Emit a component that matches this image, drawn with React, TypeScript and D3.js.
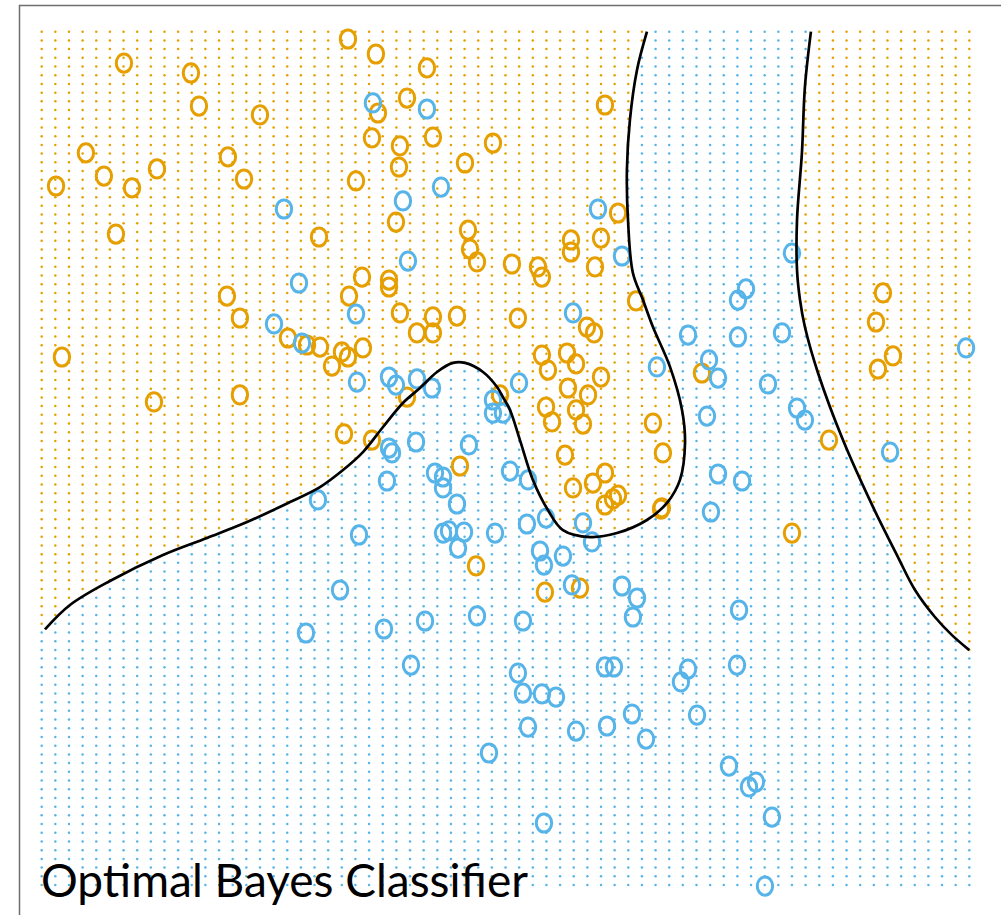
import React, { useEffect, useRef } from 'react';
import * as d3 from 'd3';

// grid of the plotted region (mixture example: px1 by 0.1, px2 by 0.05)
const gridX = d3.range(0, 69).map(i => +(-2.6 + i * 0.1).toFixed(2));
const gridY = d3.range(0, 99).map(j => +(-2 + j * 0.05).toFixed(2));

// training points, class ORANGE
const orangePts: [number, number][] = [
  [-0.355, 2.858], [-0.150, 2.772], [0.224, 2.692], [-1.997, 2.720], [-1.506, 2.663],
  [-1.447, 2.473], [-1.000, 2.422], [0.078, 2.519], [-0.135, 2.433], [-0.179, 2.290],
  [0.026, 2.244], [0.268, 2.295], [0.708, 2.261], [0.019, 2.123], [0.503, 2.146],
  [-0.296, 2.043], [-2.276, 2.204], [-2.144, 2.071], [-2.495, 2.014], [-1.938, 2.003],
  [-1.755, 2.112], [-1.235, 2.181], [-1.117, 2.054], [-2.056, 1.738], [-0.567, 1.721],
  [-0.003, 1.807], [0.525, 1.761], [0.540, 1.652], [0.591, 1.578], [0.847, 1.566],
  [-0.252, 1.491], [-0.054, 1.474], [-0.054, 1.434], [-0.347, 1.382], [-1.242, 1.382],
  [-1.147, 1.256], [0.026, 1.285], [0.268, 1.262], [0.444, 1.267], [1.529, 2.479],
  [1.625, 1.859], [1.280, 1.704], [1.280, 1.635], [1.500, 1.715], [1.038, 1.549],
  [1.067, 1.491], [1.456, 1.549], [1.757, 1.354], [3.567, 1.400], [3.516, 1.233],
  [0.891, 1.256], [1.397, 1.204], [1.449, 1.170], [0.151, 1.170], [0.268, 1.170],
  [-0.795, 1.141], [-0.655, 1.101], [-0.560, 1.089], [-0.399, 1.061], [-0.355, 1.032],
  [-0.245, 1.084], [-0.472, 0.980], [-2.452, 1.032], [-1.777, 0.774], [-1.147, 0.814],
  [0.078, 0.802], [0.760, 0.814], [-0.384, 0.590], [-0.179, 0.555], [0.466, 0.406],
  [0.584, -0.168], [3.640, 1.038], [3.530, 0.963], [1.067, 1.043], [1.111, 0.957],
  [1.251, 1.055], [1.317, 0.992], [1.500, 0.917], [1.258, 0.854], [1.405, 0.814],
  [1.097, 0.745], [1.141, 0.659], [1.317, 0.728], [1.368, 0.647], [1.881, 0.653],
  [2.240, 0.940], [1.954, 0.481], [1.236, 0.469], [3.171, 0.555], [1.529, 0.366],
  [1.441, 0.308], [1.295, 0.280], [1.625, 0.239], [1.588, 0.217], [1.529, 0.182],
  [1.940, 0.159], [1.946, 0.166], [2.900, 0.021], [1.089, -0.318], [1.346, -0.295],
];

// training points, class BLUE
const bluePts: [number, number][] = [
  [-0.172, 2.491], [0.224, 2.456], [0.327, 2.008], [0.048, 1.928], [-0.824, 1.882],
  [0.085, 1.583], [-0.714, 1.457], [-0.296, 1.279], [-0.897, 1.222], [1.478, 1.882],
  [1.654, 1.612], [2.900, 1.629], [2.563, 1.423], [2.504, 1.359], [1.295, 1.285],
  [-0.692, 1.112], [-0.289, 0.888], [-0.054, 0.917], [-0.003, 0.871], [0.151, 0.906],
  [0.261, 0.854], [0.708, 0.785], [0.708, 0.710], [0.781, 0.710], [0.144, 0.544],
  [-0.054, 0.509], [-0.032, 0.481], [0.532, 0.527], [0.283, 0.366], [0.342, 0.343],
  [0.342, 0.280], [-0.069, 0.320], [0.833, 0.377], [-0.575, 0.211], [0.444, 0.188],
  [-0.274, 0.010], [0.342, 0.021], [0.386, 0.033], [0.496, 0.027], [0.452, -0.065],
  [0.723, 0.021], [-0.413, -0.306], [2.138, 1.158], [2.504, 1.147], [2.827, 1.170],
  [4.176, 1.084], [1.910, 0.975], [2.292, 1.015], [2.358, 0.911], [0.899, 0.883],
  [2.724, 0.877], [2.937, 0.739], [2.995, 0.670], [2.277, 0.693], [3.619, 0.486],
  [0.965, 0.326], [2.358, 0.360], [2.534, 0.320], [0.957, 0.073], [1.097, 0.107],
  [1.368, 0.079], [1.434, -0.030], [1.053, -0.082], [1.082, -0.163], [1.221, -0.111],
  [2.306, 0.142], [1.287, -0.277], [1.654, -0.283], [-0.663, -0.553], [-0.091, -0.530],
  [0.210, -0.484], [0.591, -0.455], [0.107, -0.737], [0.679, -1.242], [1.764, -0.352],
  [1.734, -0.461], [0.928, -0.484], [2.512, -0.421], [0.891, -0.783], [0.928, -0.898],
  [1.067, -0.903], [1.170, -0.921], [1.529, -0.748], [1.595, -0.748], [2.138, -0.760],
  [2.086, -0.834], [2.497, -0.737], [1.727, -1.018], [2.204, -1.024], [0.965, -1.093],
  [1.317, -1.116], [1.544, -1.087], [1.830, -1.162], [2.438, -1.317], [2.636, -1.409],
  [2.585, -1.437], [2.753, -1.610], [1.082, -1.644], [2.702, -2.006],
];

// Bayes decision boundary (prob = 0.5)
const boundaryMain: [number, number][] = [
  [-2.576, -0.532], [-2.393, -0.392], [-2.100, -0.254], [-1.711, -0.105], [-1.388, -0.007],
  [-1.095, 0.084], [-0.780, 0.199], [-0.560, 0.285], [-0.391, 0.383], [-0.245, 0.486],
  [-0.098, 0.630], [0.048, 0.768], [0.173, 0.854], [0.298, 0.946], [0.415, 0.998],
  [0.503, 0.998], [0.635, 0.946], [0.738, 0.860], [0.781, 0.802], [0.833, 0.728],
  [0.906, 0.555], [1.001, 0.326], [1.111, 0.153], [1.221, 0.038], [1.419, -0.002],
  [1.617, 0.021], [1.837, 0.096], [1.984, 0.194], [2.079, 0.326], [2.116, 0.538],
  [2.094, 0.728], [2.006, 0.975], [1.881, 1.204], [1.808, 1.359], [1.734, 1.514],
  [1.698, 1.819], [1.690, 2.106], [1.712, 2.393], [1.764, 2.680], [1.837, 2.900],
];
const boundaryRight: [number, number][] = [
  [3.039, 2.900], [2.995, 2.583], [2.973, 2.204], [2.937, 1.819], [2.937, 1.532],
  [2.959, 1.359], [2.995, 1.204], [3.091, 0.940], [3.274, 0.555], [3.494, 0.171],
  [3.677, -0.117], [3.802, -0.306], [3.948, -0.461], [4.073, -0.565], [4.200, -0.651],
];

const ORANGE = '#E69F00';
const BLUE = '#56B4E9';

const App = () => {
  const ref = useRef<SVGSVGElement>(null);

  useEffect(() => {
    const svg = d3.select(ref.current);
    svg.selectAll('*').remove();

    const x = d3.scaleLinear().domain([-2.6, 4.2]).range([41.7, 969.3]);
    const y = d3.scaleLinear().domain([-2, 2.9]).range([885, 31.7]);

    // frame (cut off on the right and bottom)
    svg.append('rect')
      .attr('x', 19.5).attr('y', 5.5)
      .attr('width', 1100).attr('height', 1100)
      .attr('fill', 'white')
      .attr('stroke', '#6e6e6e')
      .attr('stroke-width', 1.5);

    // orange regions as polygons, used to colour the grid
    const polyMain: [number, number][] = [
      [-2.8, -0.55], ...boundaryMain,
      [1.837, 3.1], [-2.8, 3.1],
    ];
    const polyRight: [number, number][] = [
      ...boundaryRight,
      [4.4, -0.651], [4.4, 3.1], [3.039, 3.1],
    ];

    const grid: { gx: number; gy: number; orange: boolean }[] = [];
    gridX.forEach(gx => gridY.forEach(gy => {
      const orange = d3.polygonContains(polyMain, [gx, gy]) || d3.polygonContains(polyRight, [gx, gy]);
      grid.push({ gx, gy, orange });
    }));

    svg.append('g')
      .selectAll('circle')
      .data(grid)
      .enter()
      .append('circle')
        .attr('cx', d => x(d.gx))
        .attr('cy', d => y(d.gy))
        .attr('r', 1.25)
        .attr('fill', d => d.orange ? ORANGE : BLUE);

    // points, drawn as open "o"
    const drawPts = (pts: [number, number][], col: string) => {
      svg.append('g')
        .selectAll('ellipse')
        .data(pts)
        .enter()
        .append('ellipse')
          .attr('cx', d => x(d[0]))
          .attr('cy', d => y(d[1]))
          .attr('rx', 7.7)
          .attr('ry', 9.1)
          .attr('fill', 'none')
          .attr('stroke', col)
          .attr('stroke-width', 3);
    };
    drawPts(orangePts, ORANGE);
    drawPts(bluePts, BLUE);

    const line = d3.line<[number, number]>()
      .x(d => x(d[0]))
      .y(d => y(d[1]))
      .curve(d3.curveCatmullRom);

    [boundaryMain, boundaryRight].forEach(b => {
      svg.append('path')
        .datum(b)
        .attr('fill', 'none')
        .attr('stroke', 'black')
        .attr('stroke-width', 2.7)
        .attr('d', line);
    });

    svg.append('text')
      .attr('x', 41)
      .attr('y', 897)
      .attr('font-family', 'Lato, sans-serif')
      .attr('font-size', 46)
      .attr('fill', 'black')
      .text('Optimal Bayes Classifier');
  }, []);

  return (
    <div style={{ position: 'fixed', left: 0, top: 0 }}>
      <svg ref={ref} width={1001} height={915} style={{ display: 'block' }} />
    </div>
  );
};

export default App;
